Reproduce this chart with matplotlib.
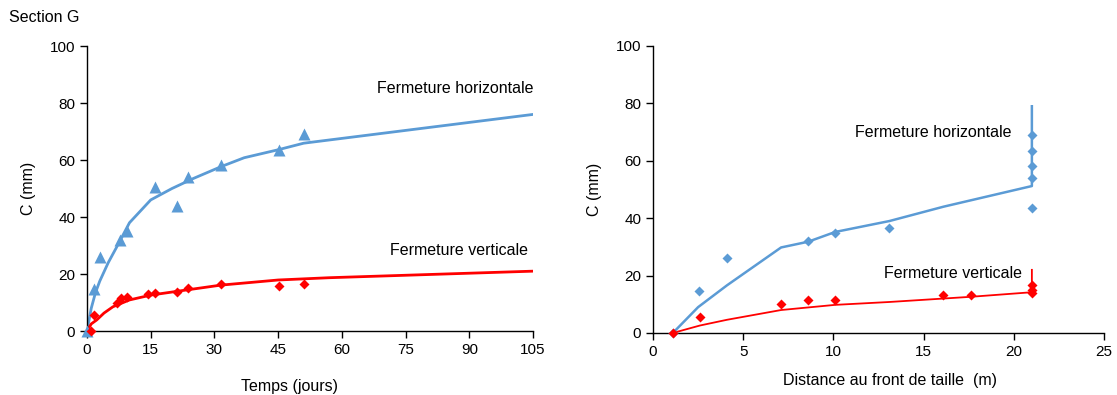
import matplotlib.pyplot as plt

plt.rcParams['font.family'] = ['Liberation Sans', 'DejaVu Sans']
plt.rcParams['font.size'] = 11.5

blue = "#5B9BD5"
red = "#FF0000"

# Left panel: closure vs time
t_h = [0, 1.6, 3.1, 7.8, 9.4, 16.1, 21.1, 23.8, 31.5, 45.2, 51.1]
c_h = [0, 14.7, 26.0, 31.8, 35.0, 50.6, 43.8, 54.0, 58.2, 63.5, 69.0]
t_v = [0.9, 1.7, 7.1, 7.9, 9.3, 14.4, 16.0, 21.1, 23.8, 31.6, 45.1, 51.1]
c_v = [0, 5.6, 10.0, 11.7, 11.8, 13.0, 13.2, 13.7, 15.1, 16.5, 15.9, 16.5]

fit_t_h = [0, 1, 2, 3, 5, 7, 10, 15, 20, 25, 31.6, 37, 45, 51, 105]
fit_c_h = [0, 8, 13.5, 17.5, 24, 29.5, 38, 46, 50, 53.5, 57.7, 60.8, 63.6, 65.9, 76]
fit_t_v = [0, 1, 2.3, 4, 6.1, 10, 15, 22, 31.5, 45, 57, 105]
fit_c_v = [0, 2.5, 3.9, 6.3, 8.5, 10.9, 12.6, 14.1, 16.1, 17.9, 18.7, 21]

# Right panel: closure vs distance to face
d_h = [1.1, 2.55, 4.1, 8.6, 10.1, 13.1, 21, 21, 21, 21, 21]
ch_d = [0, 14.6, 26.1, 32.0, 34.8, 36.6, 69.0, 63.5, 58.2, 54.0, 43.7]
d_v = [1.1, 2.6, 7.1, 8.6, 10.1, 16.1, 17.6, 21, 21, 21]
cv_d = [0, 5.6, 10.1, 11.5, 11.5, 13.2, 13.2, 16.6, 15.1, 13.8]

fit_d_h = [1.1, 2.5, 4.1, 7.1, 8.6, 10.1, 13.1, 16.1, 21, 21]
fit_ch_d = [0, 9, 16.6, 29.8, 31.8, 35.2, 39, 44, 51.2, 79]
fit_d_v = [1.1, 2.6, 4.1, 7.1, 10.1, 13.1, 16.1, 17.6, 21, 21]
fit_cv_d = [0, 2.6, 4.6, 8.0, 9.8, 10.8, 12.0, 12.6, 14.2, 22]

fig = plt.figure(figsize=(11.17, 3.95), dpi=100)
ax1 = fig.add_axes([0.0779, 0.162, 0.3993, 0.7215])
ax2 = fig.add_axes([0.5846, 0.157, 0.4038, 0.7266])

ax1.plot(fit_t_h, fit_c_h, color=blue, lw=2, zorder=2)
ax1.plot(fit_t_v, fit_c_v, color=red, lw=2, zorder=2)
ax1.plot(t_h, c_h, "^", color=blue, ms=8, mec="none", zorder=3, clip_on=False)
ax1.plot(t_v, c_v, "D", color=red, ms=5, mec="none", zorder=3, clip_on=False)
ax1.set_xlim(0, 105)
ax1.set_xticks(range(0, 106, 15))
ax1.set_xlabel("Temps (jours)", va="top")
ax1.xaxis.set_label_coords(0.453, -0.168)
ax1.text(68.3, 85, "Fermeture horizontale", va="center", ha="left")
ax1.text(71.3, 28.4, "Fermeture verticale", va="center", ha="left")

ax2.plot(fit_d_h, fit_ch_d, color=blue, lw=1.8, zorder=2)
ax2.plot(fit_d_v, fit_cv_d, color=red, lw=1.3, zorder=2)
ax2.plot(d_h, ch_d, "D", color=blue, ms=5.5, mec="none", zorder=3, clip_on=False)
ax2.plot(d_v, cv_d, "D", color=red, ms=5, mec="none", zorder=3, clip_on=False)
ax2.set_xlim(0, 25)
ax2.set_xticks(range(0, 26, 5))
ax2.set_xlabel("Distance au front de taille  (m)", va="top")
ax2.xaxis.set_label_coords(0.525, -0.139)
ax2.text(11.2, 69.7, "Fermeture horizontale", va="center", ha="left")
ax2.text(12.8, 20.9, "Fermeture verticale", va="center", ha="left")

for ax in (ax1, ax2):
    ax.set_ylim(0, 100)
    ax.set_yticks(range(0, 101, 20))
    ax.set_ylabel("C (mm)", labelpad=10)
    for s in ("top", "right"):
        ax.spines[s].set_visible(False)
    for s in ("left", "bottom"):
        ax.spines[s].set_color("black")
        ax.spines[s].set_linewidth(1)
    ax.tick_params(direction="out", length=5, width=1, colors="black", labelsize=11)

fig.text(0.008, 0.955, "Section G", ha="left", va="center")

plt.savefig("out.png", dpi=100)
